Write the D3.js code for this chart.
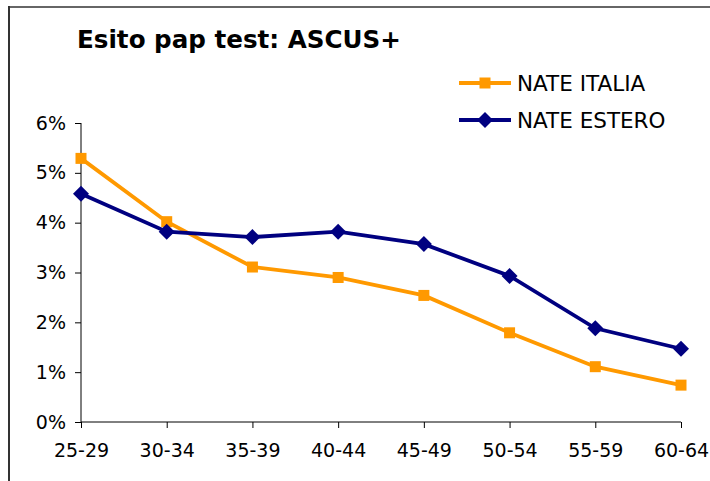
<!DOCTYPE html>
<html><head><meta charset="utf-8">
<script src="https://cdn.jsdelivr.net/npm/d3@7"></script>
<style>body{margin:0;background:#fff}svg{display:block}text{font-family:"DejaVu Sans",Verdana,sans-serif}</style>
</head><body><svg id="c" width="710" height="481"></svg>
<script>
const categories = ["25-29","30-34","35-39","40-44","45-49","50-54","55-59","60-64"];
const nateItalia = [5.29,4.02,3.11,2.90,2.54,1.79,1.11,0.74];
const nateEstero = [4.58,3.82,3.71,3.82,3.57,2.93,1.88,1.47];
const yTicks = [0,1,2,3,4,5,6];
const seriesNames = ["NATE ITALIA","NATE ESTERO"];
const title = "Esito pap test: ASCUS+";

const svg = d3.select("#c");
// frame
svg.append("line").attr("x1",9).attr("x2",9).attr("y1",6).attr("y2",481).attr("stroke","#333").attr("stroke-width",2);
svg.append("line").attr("x1",8).attr("x2",710).attr("y1",7).attr("y2",7).attr("stroke","#333").attr("stroke-width",1.3);

svg.append("text").attr("x",77).attr("y",48).attr("font-size",24.6).attr("font-weight","bold").attr("fill","#000").text(title);

const x = d3.scalePoint().domain(categories).range([81,681]);
const y = d3.scaleLinear().domain([0,6]).range([422,123]);

const yAxis = d3.axisLeft(y).tickValues(yTicks).tickFormat(d=>d+"%").tickSize(6).tickPadding(9);
const gy = svg.append("g").attr("transform","translate(81,0)").call(yAxis);
gy.select(".domain").attr("stroke","#000").attr("stroke-width",1).attr("d","M0,123V422");
gy.selectAll(".tick line").attr("stroke","#000");
gy.selectAll("text").attr("font-size",19).attr("fill","#000").attr("font-family","DejaVu Sans");

const xAxis = d3.axisBottom(x).tickSize(6).tickPadding(16);
const gx = svg.append("g").attr("transform","translate(0,422)").call(xAxis);
gx.select(".domain").attr("stroke","#000").attr("d","M81,0H681");
gx.selectAll(".tick line").attr("stroke","#000");
gx.selectAll("text").attr("font-size",19).attr("fill","#000").attr("font-family","DejaVu Sans");

const line = d3.line().x((d,i)=>x(categories[i])).y(d=>y(d));
const colors = ["#FF9900","#000080"];
const data = [nateItalia, nateEstero];

data.forEach((s,k)=>{
  svg.append("path").datum(s).attr("d",line).attr("fill","none").attr("stroke",colors[k]).attr("stroke-width",3.8).attr("stroke-linejoin","miter");
});
const sq = 11, dm = 8;
svg.append("g").selectAll("rect").data(nateItalia).join("rect")
  .attr("x",(d,i)=>x(categories[i])-sq/2).attr("y",d=>y(d)-sq/2).attr("width",sq).attr("height",sq).attr("fill",colors[0]);
svg.append("g").selectAll("path").data(nateEstero).join("path")
  .attr("d",(d,i)=>{const cx=x(categories[i]),cy=y(d);return `M${cx},${cy-dm}L${cx+dm},${cy}L${cx},${cy+dm}L${cx-dm},${cy}Z`;})
  .attr("fill",colors[1]);

// legend
const ly = [83,120];
seriesNames.forEach((n,k)=>{
  const g = svg.append("g");
  g.append("line").attr("x1",459).attr("x2",511).attr("y1",ly[k]).attr("y2",ly[k]).attr("stroke",colors[k]).attr("stroke-width",3.8);
  if(k===0) g.append("rect").attr("x",485-sq/2).attr("y",ly[k]-sq/2).attr("width",sq).attr("height",sq).attr("fill",colors[0]);
  else g.append("path").attr("d",`M485,${ly[k]-dm}L${485+dm},${ly[k]}L485,${ly[k]+dm}L${485-dm},${ly[k]}Z`).attr("fill",colors[1]);
  g.append("text").attr("x",517).attr("y",ly[k]+7.5).attr("font-size",21.5).attr("fill","#000").text(n);
});
</script></body></html>
